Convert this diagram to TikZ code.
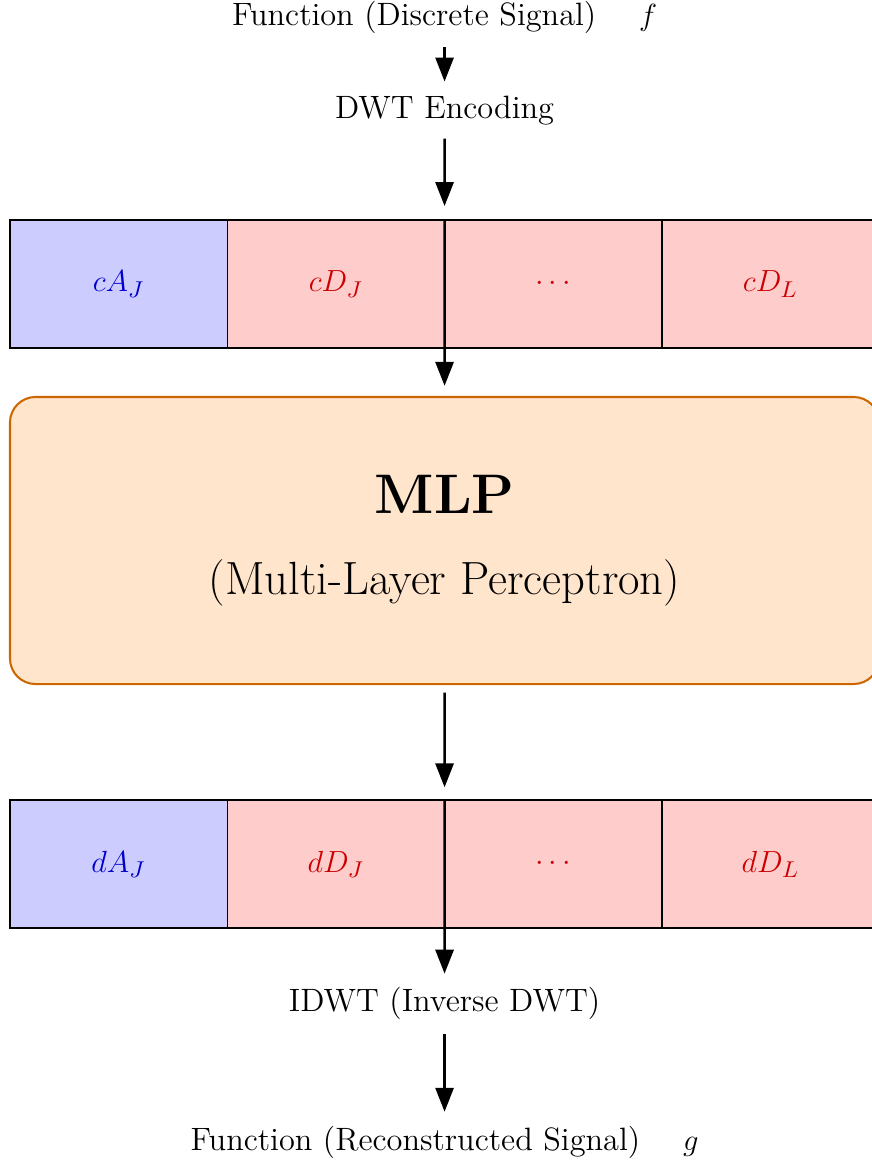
\documentclass[tikz,border=0pt]{standalone}
\usetikzlibrary{arrows.meta,positioning}
\tikzset{
  lbl/.style={font=\fontsize{12.7}{15.5}\selectfont},
  cell/.style={draw=black, semithick, minimum width=3cm, minimum height=1.767cm,
    inner sep=0pt, outer sep=0pt, font=\fontsize{12.7}{15.5}\selectfont},
  approx/.style={cell, fill=blue!20, text=blue!80!black},
  detail/.style={cell, fill=red!20, text=red!80!black},
  mlpbox/.style={draw=orange!80!black, fill=orange!20, thick, rounded corners=10pt,
    minimum width=12cm, minimum height=3.963cm, align=center,
    font=\fontsize{18.3}{22}\selectfont},
  flow/.style={-{Triangle[length=3.3mm,width=2.5mm]}, line width=1pt, shorten <=2pt, shorten >=2pt},
}
\begin{document}
\begin{tikzpicture}
    \useasboundingbox (-0.138,0) rectangle (11.901,-16.071);

    % Input
    \node[lbl] (fin) at (6,-0.235) {Function (Discrete Signal) \quad $f$};
    \node[lbl] (enc) at (6,-1.52) {DWT Encoding};

    % DWT coefficients
    \node[approx] (cA) at (1.5,-3.921) {$cA_J$};
    \node[detail, right=0pt of cA] (cD) {$cD_J$};
    \node[detail, right=0pt of cD] (cdots) {$\cdots$};
    \node[detail, right=0pt of cdots] (cDL) {$cD_L$};

    % MLP
    \node[mlpbox] (mlp) at (6,-7.4625)
        {{\fontsize{21.9}{26}\selectfont\bfseries MLP}\\[10pt](Multi-Layer Perceptron)};

    % predicted coefficients
    \node[approx] (dA) at (1.5,-11.929) {$dA_J$};
    \node[detail, right=0pt of dA] (dD) {$dD_J$};
    \node[detail, right=0pt of dD] (ddots) {$\cdots$};
    \node[detail, right=0pt of ddots] (dDL) {$dD_L$};

    % Output
    \node[lbl] (dec) at (6,-13.86) {IDWT (Inverse DWT)};
    \node[lbl] (fout) at (6,-15.767) {Function (Reconstructed Signal) \quad $g$};

    % Arrows
    \draw[flow] (fin) -- (enc);
    \draw[flow, shorten >=5.5pt] (enc) -- (cD.north east);
    \draw[flow, shorten <=0pt, shorten >=4pt] (cD.north east) -- (mlp);
    \draw[flow, shorten <=3pt, shorten >=5pt] (mlp) -- (dD.north east);
    \draw[flow, shorten <=0pt] (dD.north east) -- (dec);
    \draw[flow] (dec) -- (fout);
\end{tikzpicture}
\end{document}
